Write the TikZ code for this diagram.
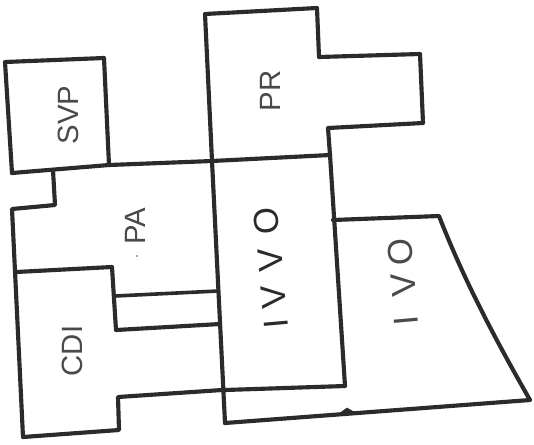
\documentclass[tikz,border=0pt]{standalone}
\usepackage{fontspec}
\setmainfont{Liberation Sans}
\definecolor{ink}{HTML}{2B2B2B}
\definecolor{soft}{HTML}{4A4A4A}
\tikzset{
  wall/.style={draw=ink,line width=3.1pt,line join=round,line cap=round},
  thin wall/.style={draw=ink,line width=2.7pt,line cap=round},
  lab/.style={text=soft,inner sep=0pt,font=\fontsize{22}{22}\selectfont},
  big/.style={text=ink,inner sep=0pt,font=\fontsize{26}{26}\selectfont}
}
\begin{document}
\begin{tikzpicture}[x=0.75pt,y=-0.75pt]
\path[use as bounding box,fill=white] (0,0) rectangle (534,444);
% SVP
\draw[wall] (12,173) -- (5,62) -- (104,58) -- (109,165);
% long dividing line
\draw[wall] (12,173) -- (109,165) -- (212,161) -- (330,155);
% PR
\draw[wall] (212,161) -- (205,14) -- (317,8) -- (319,57) -- (420,54) -- (423,123) -- (328,128) -- (330,155);
% IVVO
\draw[wall] (212,161) -- (225,423);
\draw[wall] (330,155) -- (345,386) -- (225,390);
% IVO
\draw[wall] (333,220) -- (439,216) .. controls (462,275) and (490,330) .. (530,400) -- (225,423);
\draw[ink,fill=ink] (340,413) -- (347,408) -- (354,412) -- cycle;
% PA and CDI
\draw[wall] (53,170) -- (55,205) -- (12,209) -- (23,437) -- (119,430) -- (118,397) -- (222,390);
\draw[wall] (16,272) -- (112,267) -- (116,330) -- (220,324);
\draw[thin wall] (115,296) -- (218,291);
% labels
\node[lab,rotate=90] (svp) at (68,115) {SVP};
\node[lab,rotate=90] (pr) at (270,91) {PR};
\node[lab,rotate=90] (pa) at (135,226) {PA};
\node[lab,rotate=90] (cdi) at (72,351) {CDI};
\fill[soft] (137,256) circle (0.8);
\node[big,rotate=95] (ivvo) at (271,268) {I\kern8pt V\kern10pt V\kern10.6pt O};
\node[big,rotate=95,text=soft] (ivo) at (403,282) {I\kern14pt V\kern6pt O};
\end{tikzpicture}
\end{document}
